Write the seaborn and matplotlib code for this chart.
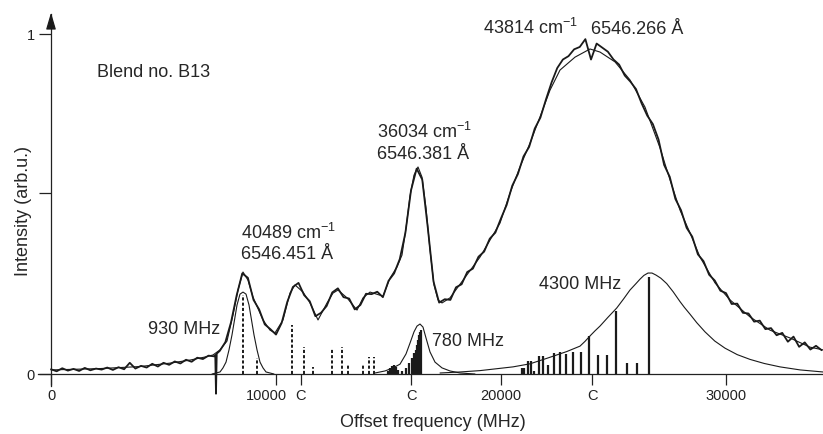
import numpy as np
import pandas as pd
import matplotlib
matplotlib.use("Agg")
import matplotlib.pyplot as plt
import matplotlib.transforms as mtransforms
import seaborn as sns

# fitted total spectrum (MHz, arb.u.)
fit_mhz = [0, 2178, 3956, 5289, 6178, 6844, 7200, 7511, 7822, 8089, 8311, 8533, 8756, 8978,
           9422, 9733, 9956, 10311, 10622, 10844, 11200, 11511, 11867, 12267, 12533, 12756,
           13156, 13600, 13867, 14178, 14756, 15067, 15378, 15600, 15778, 15956, 16133, 16311,
           16489, 16667, 16844, 17022, 17200, 17378, 17733, 18311, 19067, 19956, 20400, 20844,
           21289, 21733, 22178, 22622, 23289, 23956, 24400, 25067, 25733, 26400, 27067, 27511,
           27956, 28400, 28844, 29511, 30178, 31067, 31956, 32844, 33733, 34311]
fit_int = [0.012, 0.016, 0.022, 0.032, 0.041, 0.050, 0.056, 0.071, 0.097, 0.174, 0.247, 0.300,
           0.276, 0.226, 0.159, 0.129, 0.121, 0.159, 0.238, 0.262, 0.241, 0.209, 0.159, 0.209,
           0.238, 0.247, 0.224, 0.188, 0.224, 0.241, 0.229, 0.282, 0.315, 0.350, 0.429, 0.524,
           0.585, 0.609, 0.579, 0.488, 0.365, 0.262, 0.218, 0.209, 0.224, 0.276, 0.344, 0.444,
           0.532, 0.609, 0.679, 0.756, 0.835, 0.894, 0.932, 0.956, 0.947, 0.918, 0.865, 0.785,
           0.665, 0.571, 0.482, 0.415, 0.344, 0.268, 0.218, 0.168, 0.129, 0.106, 0.079, 0.071]

# measured spectrum, every 250 MHz from 0
meas_int = [0.014, 0.008, 0.017, 0.010, 0.015, 0.009, 0.018, 0.011, 0.016, 0.013,
            0.019, 0.012, 0.020, 0.014, 0.033, 0.016, 0.024, 0.019, 0.030, 0.022,
            0.033, 0.027, 0.037, 0.031, 0.042, 0.036, 0.048, 0.044, 0.054, 0.052,
            0.068, 0.094, 0.152, 0.231, 0.296, 0.283, 0.218, 0.190, 0.146, 0.132,
            0.116, 0.150, 0.212, 0.256, 0.268, 0.232, 0.214, 0.170, 0.180, 0.200,
            0.240, 0.252, 0.226, 0.222, 0.190, 0.203, 0.236, 0.235, 0.242, 0.226,
            0.274, 0.296, 0.338, 0.415, 0.540, 0.604, 0.572, 0.428, 0.272, 0.210,
            0.220, 0.218, 0.255, 0.264, 0.300, 0.310, 0.345, 0.360, 0.398, 0.416,
            0.458, 0.497, 0.554, 0.588, 0.640, 0.668, 0.722, 0.754, 0.808, 0.858,
            0.900, 0.925, 0.935, 0.955, 0.962, 0.985, 0.925, 0.972, 0.960, 0.948,
            0.925, 0.910, 0.878, 0.860, 0.838, 0.796, 0.760, 0.735, 0.690, 0.615,
            0.580, 0.515, 0.482, 0.430, 0.404, 0.352, 0.332, 0.292, 0.275, 0.245,
            0.238, 0.206, 0.207, 0.180, 0.178, 0.154, 0.157, 0.132, 0.135, 0.114,
            0.121, 0.095, 0.110, 0.080, 0.093, 0.072, 0.083, 0.070]
meas_mhz = np.arange(len(meas_int)) * 250
glitch_mhz = [7300, 7333, 7366]
glitch_int = [0.056, -0.058, 0.060]

# component profiles
g930_mhz = [7156, 7511, 7644, 7778, 7911, 8044, 8156, 8267, 8400, 8533, 8667, 8800, 8911,
            9022, 9156, 9289, 9422, 9556, 9911]
g930_int = [0.0, 0.006, 0.018, 0.035, 0.071, 0.115, 0.159, 0.203, 0.235, 0.241, 0.235,
            0.203, 0.159, 0.115, 0.071, 0.035, 0.018, 0.006, 0.0]
l780_mhz = [14400, 14844, 15200, 15511, 15778, 15956, 16133, 16267, 16400, 16533, 16667,
            16844, 17067, 17378, 17733, 18178, 18844]
l780_int = [0.003, 0.009, 0.018, 0.029, 0.059, 0.091, 0.124, 0.141, 0.147, 0.138, 0.106,
            0.065, 0.035, 0.018, 0.009, 0.003, 0.0]
l4300_mhz = [17289, 18178, 19067, 20533, 21289, 22031, 22920, 23511, 23733, 23956, 24178,
             24400, 24756, 25142, 25450, 25733, 26000, 26178, 26350, 26533, 26711, 26889,
             27100, 27364, 27650, 27956, 28150, 28400, 28700, 29067, 29500, 29956, 30500,
             31067, 31700, 32400, 33300, 34311]
l4300_int = [0.003, 0.006, 0.010, 0.021, 0.030, 0.046, 0.066, 0.082, 0.096, 0.112, 0.127,
             0.141, 0.167, 0.194, 0.221, 0.247, 0.266, 0.279, 0.290, 0.297, 0.297, 0.291,
             0.282, 0.266, 0.242, 0.213, 0.196, 0.176, 0.151, 0.124, 0.097, 0.076, 0.057,
             0.043, 0.031, 0.021, 0.012, 0.006]

# stick spectra
dash_pos = [8547, 9142, 10724, 11244, 11631, 12502, 12920, 13213, 13853, 14147, 14356]
dash_h = [0.232, 0.047, 0.144, 0.080, 0.020, 0.073, 0.080, 0.030, 0.026, 0.050, 0.050]
s780_pos = [14978, 15067, 15156, 15244, 15333, 15422, 15613, 15764, 15911, 16058, 16147,
            16200, 16253, 16311, 16356, 16400, 16431]
s780_h = [0.010, 0.018, 0.024, 0.026, 0.022, 0.012, 0.010, 0.018, 0.032, 0.047, 0.062,
          0.072, 0.085, 0.100, 0.115, 0.125, 0.130]
s4300_pos = [20911, 21000, 21213, 21320, 21480, 21676, 21880, 22089, 22356, 22622, 22889,
             23213, 23542, 23911, 24298, 24698, 25111, 25600, 26058, 26578]
s4300_h = [0.019, 0.019, 0.038, 0.038, 0.009, 0.054, 0.054, 0.026, 0.063, 0.065, 0.059,
           0.065, 0.065, 0.113, 0.055, 0.055, 0.186, 0.033, 0.033, 0.286]

xtick_pos = [0, 10000, 11100, 16000, 20000, 24050, 30000]
xtick_lab = ["0", "10000", "C", "C", "20000", "C", "30000"]
ytick_pos = [0, 0.532, 1.0]
ytick_lab = ["0", "", "1"]

sns.set_theme(style="ticks")
plt.rcParams['font.family'] = ['Liberation Sans', 'DejaVu Sans']
plt.rcParams['mathtext.fontset'] = 'custom'
plt.rcParams['mathtext.rm'] = 'Liberation Sans'
plt.rcParams['mathtext.it'] = 'Liberation Sans:italic'

fig = plt.figure(figsize=(8.23, 4.34), dpi=100)
ax = fig.add_axes([38 / 823, 0.1108, 785 / 823, 0.8578])
ax.set_xlim(-578, 34311)
ax.set_ylim(-0.035, 1.06)

meas = pd.DataFrame({'mhz': np.concatenate([meas_mhz, glitch_mhz]),
                     'val': np.concatenate([meas_int, glitch_int])}).sort_values('mhz')

# sticks
ax.vlines(dash_pos, 0, dash_h, colors='k', linewidth=1.4, linestyles=(0, (1.6, 1.1)))
ax.vlines(s780_pos, 0, s780_h, colors='k', linewidth=1.6)
ax.vlines(s4300_pos, 0, s4300_h, colors='k', linewidth=1.6)

# components
sns.lineplot(x=g930_mhz, y=g930_int, ax=ax, color='k', linewidth=0.8, estimator=None, sort=False)
sns.lineplot(x=l780_mhz, y=l780_int, ax=ax, color='k', linewidth=0.8, estimator=None, sort=False)
sns.lineplot(x=l4300_mhz, y=l4300_int, ax=ax, color='k', linewidth=0.8, estimator=None, sort=False)

# fit and data
sns.lineplot(x=fit_mhz, y=fit_int, ax=ax, color='k', linewidth=0.8, estimator=None, sort=False)
sns.lineplot(data=meas, x='mhz', y='val', ax=ax, color='#1a1a1a', linewidth=1.3,
             estimator=None, sort=False)
ax.lines[-1].set_clip_on(False)

for s in ['top', 'right']:
    ax.spines[s].set_visible(False)
ax.spines['left'].set_position(('data', 0))
ax.spines['bottom'].set_position(('data', 0))
for s in ['left', 'bottom']:
    ax.spines[s].set_linewidth(0.9)
    ax.spines[s].set_color('#222222')

ax.set_xticks(xtick_pos)
ax.set_xticklabels(xtick_lab)
ax.set_yticks(ytick_pos)
ax.set_yticklabels(ytick_lab)
ax.tick_params(axis='x', direction='out', length=8, width=0.9, pad=3, labelsize=10.5, colors='#222222')
ax.tick_params(axis='y', direction='out', length=8.6, width=0.9, pad=3, labelsize=10.5, colors='#222222')

# the 10000 label sits a little left of its tick, clear of the C
lab10k = ax.get_xticklabels()[1]
lab10k.set_transform(lab10k.get_transform() +
                     mtransforms.ScaledTranslation(-9.5 / 100, 0, fig.dpi_scale_trans))

ax.annotate('', xy=(0, 1.063), xytext=(0, 1.02), annotation_clip=False,
            arrowprops=dict(arrowstyle='-|>,head_length=0.85,head_width=0.25',
                            color='k', lw=0.9, shrinkA=0, shrinkB=0))

ax.set_xlabel('Offset frequency (MHz)', fontsize=13)
ax.xaxis.set_label_coords(0.503, -0.097)
ax.xaxis.label.set_va('center')
ax.set_ylabel('Intensity (arb.u.)', fontsize=13)
ax.yaxis.set_label_coords(-0.019, 0.47)
ax.yaxis.label.set_va('center')

fs = 13
ax.text(2044, 0.875, 'Blend no. B13', fontsize=fs, va='baseline')
ax.text(8444, 0.396, '40489 cm$^{-1}$', fontsize=fs, va='baseline')
ax.text(8444, 0.337, '6546.451 Å', fontsize=fs, va='baseline')
ax.text(14489, 0.693, '36034 cm$^{-1}$', fontsize=fs, va='baseline')
ax.text(14489, 0.631, '6546.381 Å', fontsize=fs, va='baseline')
ax.text(19200, 1.001, '43814 cm$^{-1}$', fontsize=fs, va='baseline')
ax.text(24000, 1.001, '6546.266 Å', fontsize=fs, va='baseline')
ax.text(4311, 0.119, '930 MHz', fontsize=fs, va='baseline')
ax.text(16933, 0.081, '780 MHz', fontsize=fs, va='baseline')
ax.text(21689, 0.249, '4300 MHz', fontsize=fs, va='baseline')

fig.savefig('out.png', dpi=100)
